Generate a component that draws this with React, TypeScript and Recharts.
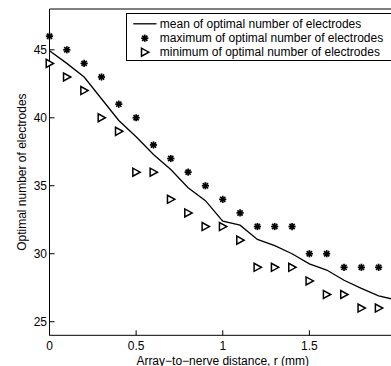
import React from 'react';
import { ComposedChart, Line, XAxis, YAxis, Legend } from 'recharts';

const distances = [0, 0.1, 0.2, 0.3, 0.4, 0.5, 0.6, 0.7, 0.8, 0.9, 1.0, 1.1, 1.2, 1.3, 1.4, 1.5, 1.6, 1.7, 1.8, 1.9, 2.0];
const meanValues = [44.93, 44.0, 43.0, 41.4, 39.8, 38.6, 37.3, 36.2, 34.85, 33.9, 32.4, 32.1, 31.05, 30.6, 30.0, 29.25, 28.8, 28.05, 27.45, 26.9, 26.6];
const maxValues = [46, 45, 44, 43, 41, 40, 38, 37, 36, 35, 34, 33, 32, 32, 32, 30, 30, 29, 29, 29, null];
const minValues = [44, 43, 42, 40, 39, 36, 36, 34, 33, 32, 32, 31, 29, 29, 29, 28, 27, 27, 26, 26, null];
const xTicks = [0, 0.5, 1, 1.5];
const yTicks = [25, 30, 35, 40, 45];
const seriesNames = [
  'mean of optimal number of electrodes',
  'maximum of optimal number of electrodes',
  'minimum of optimal number of electrodes',
];

const data = distances.map((x, i) => ({ x, mean: meanValues[i], max: maxValues[i], min: minValues[i] }));

const FONT = '"Liberation Sans", Arial, Helvetica, sans-serif';

const AsteriskMark = ({ cx, cy }: { cx: number; cy: number }) => {
  const r = 3.6;
  const d = r * 0.72;
  return (
    <g stroke="#000" strokeWidth={1.7}>
      <line x1={cx - r} y1={cy} x2={cx + r} y2={cy} />
      <line x1={cx} y1={cy - r} x2={cx} y2={cy + r} />
      <line x1={cx - d} y1={cy - d} x2={cx + d} y2={cy + d} />
      <line x1={cx - d} y1={cy + d} x2={cx + d} y2={cy - d} />
      <circle cx={cx} cy={cy} r={1.8} fill="#000" stroke="none" />
    </g>
  );
};

const TriangleMark = ({ cx, cy }: { cx: number; cy: number }) => (
  <polygon
    points={`${cx - 3.3},${cy - 4} ${cx - 3.3},${cy + 4} ${cx + 4},${cy}`}
    fill="#fff"
    stroke="#000"
    strokeWidth={1.5}
    strokeLinejoin="miter"
  />
);

const Asterisk = (props: any) => {
  const { cx, cy, value } = props;
  if (value == null || cx == null || cy == null) return <g key={props.key} />;
  return <g key={props.key}><AsteriskMark cx={cx} cy={cy} /></g>;
};

const Triangle = (props: any) => {
  const { cx, cy, value } = props;
  if (value == null || cx == null || cy == null) return <g key={props.key} />;
  return <g key={props.key}><TriangleMark cx={cx} cy={cy} /></g>;
};

const renderLegend = () => {
  const rows = [9.8, 24.2, 38.2];
  return (
    <div style={{ width: 300, height: 48, border: '1px solid #000', background: '#fff', boxSizing: 'border-box' }}>
      <svg width={298} height={46} style={{ display: 'block' }}>
        <line x1={6.2} y1={rows[0]} x2={29.5} y2={rows[0]} stroke="#000" strokeWidth={1.3} />
        <AsteriskMark cx={17.8} cy={rows[1]} />
        <TriangleMark cx={17.8} cy={rows[2]} />
        {seriesNames.map((name, i) => (
          <text key={name} x={32.8} y={rows[i] + 4.2} fontSize={12} fontFamily={FONT} fill="#000">
            {name}
          </text>
        ))}
      </svg>
    </div>
  );
};

export default function App() {
  return (
    <div style={{ position: 'absolute', left: 0, top: 0, width: 391, height: 366, overflow: 'hidden', background: '#fff' }}>
      <ComposedChart
        width={420}
        height={366}
        data={data}
        margin={{ top: 0, right: 24, left: 0, bottom: 0 }}
        style={{ fontFamily: FONT }}
      >
        <XAxis
          xAxisId="top"
          orientation="top"
          dataKey="x"
          type="number"
          domain={[0, 2]}
          ticks={xTicks}
          height={9}
          tick={false}
          tickSize={-5}
          axisLine={{ stroke: '#000', strokeWidth: 1 }}
          tickLine={{ stroke: '#000', strokeWidth: 1 }}
        />
        <XAxis
          dataKey="x"
          type="number"
          domain={[0, 2]}
          ticks={xTicks}
          height={30.7}
          tickSize={-5}
          tickMargin={11.5}
          tick={{ fill: '#000', fontSize: 12, fontFamily: FONT }}
          axisLine={{ stroke: '#000', strokeWidth: 1 }}
          tickLine={{ stroke: '#000', strokeWidth: 1 }}
          label={{ value: 'Array\u2212to\u2212nerve distance, r (mm)', position: 'insideBottom', offset: 1.5, fill: '#000', fontSize: 12, fontFamily: FONT }}
        />
        <YAxis
          type="number"
          domain={[24, 48]}
          ticks={yTicks}
          width={49.5}
          tickSize={-5}
          tickMargin={7.5}
          tick={{ fill: '#000', fontSize: 12, fontFamily: FONT }}
          axisLine={{ stroke: '#000', strokeWidth: 1 }}
          tickLine={{ stroke: '#000', strokeWidth: 1 }}
          label={{ value: 'Optimal number of electrodes', angle: -90, position: 'center', dx: -3, fill: '#000', fontSize: 12, fontFamily: FONT }}
        />
        <Line
          dataKey="mean"
          type="linear"
          stroke="#000"
          strokeWidth={1.3}
          dot={false}
          activeDot={false}
          isAnimationActive={false}
        />
        <Line
          dataKey="max"
          type="linear"
          stroke="none"
          dot={Asterisk}
          activeDot={false}
          isAnimationActive={false}
        />
        <Line
          dataKey="min"
          type="linear"
          stroke="none"
          dot={Triangle}
          activeDot={false}
          isAnimationActive={false}
        />
        <Legend
          layout="vertical"
          align="center"
          verticalAlign="middle"
          content={renderLegend}
          wrapperStyle={{ position: 'absolute', left: 125.5, top: 12.5, width: 300, height: 48 }}
        />
      </ComposedChart>
    </div>
  );
}
